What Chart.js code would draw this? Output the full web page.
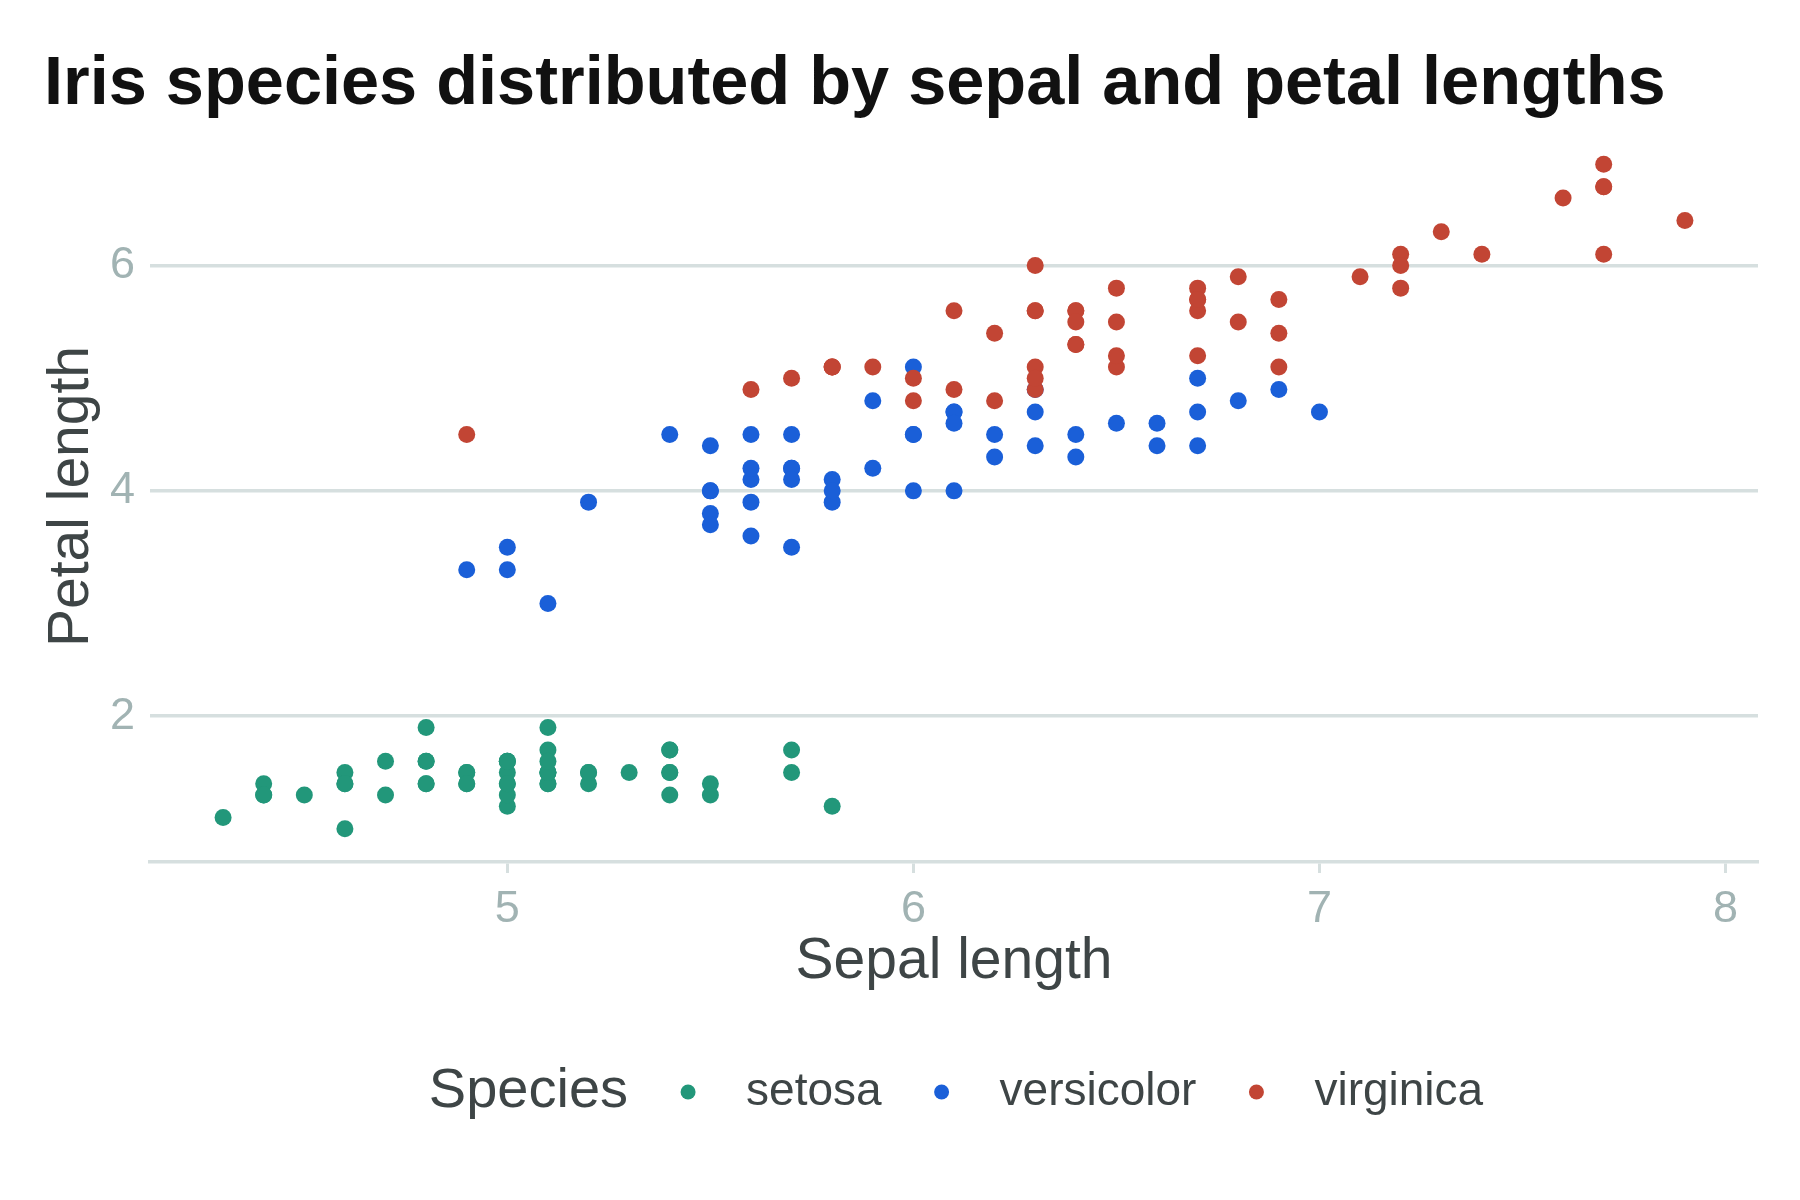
<!DOCTYPE html>
<html>
<head>
<meta charset="utf-8">
<title>Iris species</title>
<script src="https://cdn.jsdelivr.net/npm/chart.js@4.4.1/dist/chart.umd.min.js"></script>
<style>
    html, body { margin: 0; padding: 0; background: #ffffff; }
    canvas { display: block; }
</style>
</head>
<body>
<canvas id="canvas1" width="1800" height="1200"></canvas>
<script>
// iris measurements, one pair of arrays per species
let species = ['setosa', 'versicolor', 'virginica'];

let setosaSepal = [5.1, 4.9, 4.7, 4.6, 5.0, 5.4, 4.6, 5.0, 4.4, 4.9, 5.4, 4.8, 4.8, 4.3, 5.8, 5.7, 5.4, 5.1, 5.7, 5.1,
    5.4, 5.1, 4.6, 5.1, 4.8, 5.0, 5.0, 5.2, 5.2, 4.7, 4.8, 5.4, 5.2, 5.5, 4.9, 5.0, 5.5, 4.9, 4.4, 5.1,
    5.0, 4.5, 4.4, 5.0, 5.1, 4.8, 5.1, 4.6, 5.3, 5.0];
let setosaPetal = [1.4, 1.4, 1.3, 1.5, 1.4, 1.7, 1.4, 1.5, 1.4, 1.5, 1.5, 1.6, 1.4, 1.1, 1.2, 1.5, 1.3, 1.4, 1.7, 1.5,
    1.7, 1.5, 1.0, 1.7, 1.9, 1.6, 1.6, 1.5, 1.4, 1.6, 1.6, 1.5, 1.5, 1.4, 1.5, 1.2, 1.3, 1.4, 1.3, 1.5,
    1.3, 1.3, 1.3, 1.6, 1.9, 1.4, 1.6, 1.4, 1.5, 1.4];

let versicolorSepal = [7.0, 6.4, 6.9, 5.5, 6.5, 5.7, 6.3, 4.9, 6.6, 5.2, 5.0, 5.9, 6.0, 6.1, 5.6, 6.7, 5.6, 5.8, 6.2, 5.6,
    5.9, 6.1, 6.3, 6.1, 6.4, 6.6, 6.8, 6.7, 6.0, 5.7, 5.5, 5.5, 5.8, 6.0, 5.4, 6.0, 6.7, 6.3, 5.6, 5.5,
    5.5, 6.1, 5.8, 5.0, 5.6, 5.7, 5.7, 6.2, 5.1, 5.7];
let versicolorPetal = [4.7, 4.5, 4.9, 4.0, 4.6, 4.5, 4.7, 3.3, 4.6, 3.9, 3.5, 4.2, 4.0, 4.7, 3.6, 4.4, 4.5, 4.1, 4.5, 3.9,
    4.8, 4.0, 4.9, 4.7, 4.3, 4.4, 4.8, 5.0, 4.5, 3.5, 3.8, 3.7, 3.9, 5.1, 4.5, 4.5, 4.7, 4.4, 4.1, 4.0,
    4.4, 4.6, 4.0, 3.3, 4.2, 4.2, 4.2, 4.3, 3.0, 4.1];

let virginicaSepal = [6.3, 5.8, 7.1, 6.3, 6.5, 7.6, 4.9, 7.3, 6.7, 7.2, 6.5, 6.4, 6.8, 5.7, 5.8, 6.4, 6.5, 7.7, 7.7, 6.0,
    6.9, 5.6, 7.7, 6.3, 6.7, 7.2, 6.2, 6.1, 6.4, 7.2, 7.4, 7.9, 6.4, 6.3, 6.1, 7.7, 6.3, 6.4, 6.0, 6.9,
    6.7, 6.9, 5.8, 6.8, 6.7, 6.7, 6.3, 6.5, 6.2, 5.9];
let virginicaPetal = [6.0, 5.1, 5.9, 5.6, 5.8, 6.6, 4.5, 6.3, 5.8, 6.1, 5.1, 5.3, 5.5, 5.0, 5.1, 5.3, 5.5, 6.7, 6.9, 5.0,
    5.7, 4.9, 6.7, 4.9, 5.7, 6.0, 4.8, 4.9, 5.6, 5.8, 6.1, 6.4, 5.6, 5.1, 5.6, 6.1, 5.6, 5.5, 4.8, 5.4,
    5.6, 5.1, 5.1, 5.9, 5.7, 5.2, 5.0, 5.2, 5.4, 5.1];

let xTicks = [5, 6, 7, 8];
let yTicks = [2, 4, 6];

let colors = ['#22977a', '#1a5fd8', '#c24534'];
let gridColor = '#d6dfdf';
let tickColor = '#a1b3b3';
let labelColor = '#3e4546';
let fontFamily = '"Liberation Sans", Arial, Helvetica, sans-serif';

function pairs(xs, ys) {
    return xs.map(function (x, i) { return { x: x, y: ys[i] }; });
}

// ggplot style 5% expansion around the data range
function expand(values) {
    let lo = Math.min.apply(null, values);
    let hi = Math.max.apply(null, values);
    let pad = (hi - lo) * 0.05;
    return { min: lo - pad, max: hi + pad };
}

let allSepal = setosaSepal.concat(versicolorSepal, virginicaSepal);
let allPetal = setosaPetal.concat(versicolorPetal, virginicaPetal);
let xRange = expand(allSepal);
let yRange = expand(allPetal);

// legend drawn in one row: title on the left, then the species
let inlineLegend = {
    id: 'inlineLegend',
    afterDraw: function (chart) {
        let ctx = chart.ctx;
        let area = chart.chartArea;
        let cy = 1092;
        let r = 7.5;
        let titleFont = '56px ' + fontFamily;
        let itemFont = '46px ' + fontFamily;

        ctx.save();
        ctx.font = titleFont;
        let total = ctx.measureText('Species').width;
        ctx.font = itemFont;
        let widths = chart.data.datasets.map(function (ds) {
            return ctx.measureText(ds.label).width;
        });
        widths.forEach(function (w) { total += 60 + 58 + w; });

        let x = (area.left + area.right) / 2 - total / 2 + 2;
        ctx.textBaseline = 'middle';
        ctx.textAlign = 'left';
        ctx.fillStyle = labelColor;
        ctx.font = titleFont;
        ctx.fillText('Species', x, cy);
        x += ctx.measureText('Species').width;

        ctx.font = itemFont;
        chart.data.datasets.forEach(function (ds, i) {
            x += 60;
            ctx.beginPath();
            ctx.arc(x, cy, r, 0, Math.PI * 2);
            ctx.fillStyle = ds.backgroundColor;
            ctx.fill();
            x += 58;
            ctx.fillStyle = labelColor;
            ctx.fillText(ds.label, x, cy);
            x += widths[i];
        });
        ctx.restore();
    }
};

let canvas1 = document.getElementById('canvas1');

let chart1 = new Chart(canvas1, {
    type: 'scatter',
    data: {
        datasets: [{
            label: species[0],
            data: pairs(setosaSepal, setosaPetal),
            backgroundColor: colors[0],
            order: 3
        }, {
            label: species[1],
            data: pairs(versicolorSepal, versicolorPetal),
            backgroundColor: colors[1],
            order: 2
        }, {
            label: species[2],
            data: pairs(virginicaSepal, virginicaPetal),
            backgroundColor: colors[2],
            order: 1
        }]
    },
    options: {
        responsive: false,
        animation: false,
        devicePixelRatio: 1,
        layout: {
            padding: { left: 44, right: 42, top: 0, bottom: 209 }
        },
        elements: {
            point: {
                radius: 8.5,
                hoverRadius: 8.5,
                borderWidth: 0
            }
        },
        plugins: {
            legend: { display: false },
            tooltip: { enabled: false },
            title: {
                display: true,
                text: 'Iris species distributed by sepal and petal lengths',
                align: 'start',
                color: '#111111',
                font: { family: fontFamily, size: 68.5, weight: 'bold', lineHeight: 1.2 },
                padding: { top: 44, bottom: 4.8 }
            }
        },
        scales: {
            x: {
                type: 'linear',
                min: xRange.min,
                max: xRange.max,
                afterFit: function (scale) { scale.height = 129; },
                afterBuildTicks: function (scale) {
                    scale.ticks = xTicks.map(function (v) { return { value: v }; });
                },
                ticks: {
                    color: tickColor,
                    padding: 10,
                    font: { family: fontFamily, size: 45 }
                },
                grid: {
                    drawOnChartArea: false,
                    drawTicks: true,
                    tickLength: 11,
                    tickWidth: 3,
                    tickColor: gridColor
                },
                border: {
                    display: true,
                    color: gridColor,
                    width: 3.5
                },
                title: {
                    display: true,
                    text: 'Sepal length',
                    color: labelColor,
                    padding: 0,
                    font: { family: fontFamily, size: 57, lineHeight: 1 }
                }
            },
            y: {
                type: 'linear',
                min: yRange.min,
                max: yRange.max,
                afterFit: function (scale) { scale.width = 106; },
                afterBuildTicks: function (scale) {
                    scale.ticks = yTicks.map(function (v) { return { value: v }; });
                },
                ticks: {
                    color: tickColor,
                    padding: 15,
                    font: { family: fontFamily, size: 45 }
                },
                grid: {
                    color: gridColor,
                    lineWidth: 3.5,
                    drawTicks: false
                },
                border: { display: false },
                title: {
                    display: true,
                    text: 'Petal length',
                    color: labelColor,
                    padding: 0,
                    font: { family: fontFamily, size: 57, lineHeight: 1 }
                }
            }
        }
    },
    plugins: [inlineLegend]
});
</script>
</body>
</html>
